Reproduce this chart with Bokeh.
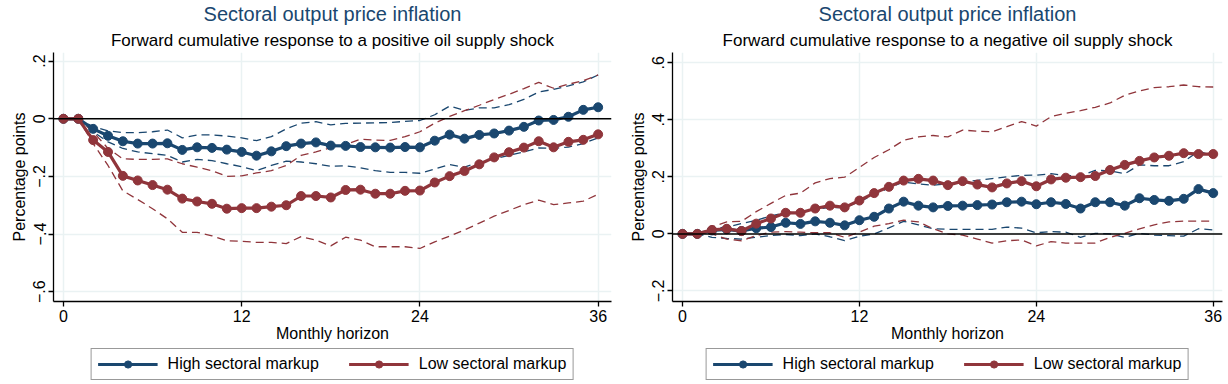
from bokeh.plotting import figure
from bokeh.layouts import row, column
from bokeh.models import (Range1d, Title, Legend, LegendItem, FixedTicker, Span,
                          CustomJSTickFormatter)
from bokeh.embed import file_html
from bokeh.resources import INLINE

months = list(range(37))
x_ticks = [0, 12, 24, 36]
main_title = "Sectoral output price inflation"
sub_pos = "Forward cumulative response to a positive oil supply shock"
sub_neg = "Forward cumulative response to a negative oil supply shock"
series_labels = ["High sectoral markup", "Low sectoral markup"]
y_ticks_pos = [0.2, 0.0, -0.2, -0.4, -0.6]
y_ticks_neg = [0.6, 0.4, 0.2, 0.0, -0.2]

# Positive oil supply shock
pos_high = [0, 0, -0.035, -0.059, -0.078, -0.086, -0.086, -0.085, -0.108, -0.099, -0.101, -0.107,
            -0.115, -0.128, -0.113, -0.095, -0.086, -0.082, -0.093, -0.094, -0.098, -0.099, -0.100,
            -0.098, -0.099, -0.076, -0.055, -0.069, -0.056, -0.051, -0.041, -0.028, -0.006, -0.004,
            0.007, 0.031, 0.040]
pos_high_up = [0, 0, -0.027, -0.042, -0.048, -0.048, -0.045, -0.039, -0.066, -0.056, -0.056, -0.060,
               -0.066, -0.076, -0.062, -0.035, -0.015, -0.010, -0.021, -0.016, -0.015, -0.014, -0.013,
               -0.009, -0.006, 0.014, 0.044, 0.029, 0.038, 0.038, 0.049, 0.067, 0.093, 0.102, 0.114,
               0.128, 0.152]
pos_high_lo = [0, 0, -0.045, -0.080, -0.103, -0.115, -0.121, -0.127, -0.150, -0.141, -0.145, -0.156,
               -0.166, -0.180, -0.162, -0.147, -0.150, -0.156, -0.165, -0.163, -0.170, -0.180, -0.186,
               -0.186, -0.189, -0.174, -0.159, -0.168, -0.150, -0.139, -0.127, -0.115, -0.101, -0.103,
               -0.098, -0.086, -0.066]
pos_low = [0, 0, -0.074, -0.115, -0.198, -0.214, -0.230, -0.246, -0.277, -0.287, -0.295, -0.312,
           -0.310, -0.310, -0.305, -0.300, -0.268, -0.268, -0.273, -0.247, -0.246, -0.260, -0.260,
           -0.250, -0.249, -0.221, -0.199, -0.181, -0.158, -0.134, -0.116, -0.100, -0.078, -0.099,
           -0.080, -0.073, -0.054]
pos_low_up = [0, 0, -0.045, -0.103, -0.139, -0.141, -0.141, -0.139, -0.156, -0.168, -0.180, -0.200,
              -0.198, -0.188, -0.180, -0.162, -0.127, -0.115, -0.100, -0.089, -0.071, -0.074, -0.075,
              -0.062, -0.045, -0.015, 0.008, 0.028, 0.047, 0.067, 0.085, 0.105, 0.126, 0.106, 0.120,
              0.132, 0.152]
pos_low_lo = [0, 0, -0.086, -0.162, -0.250, -0.280, -0.312, -0.347, -0.394, -0.394, -0.406, -0.423,
              -0.425, -0.429, -0.429, -0.433, -0.409, -0.421, -0.441, -0.411, -0.421, -0.444, -0.444,
              -0.444, -0.450, -0.427, -0.407, -0.386, -0.362, -0.338, -0.318, -0.298, -0.282, -0.298,
              -0.292, -0.286, -0.262]

# Negative oil supply shock
neg_high = [0, 0, 0.012, 0.016, 0.010, 0.020, 0.024, 0.039, 0.035, 0.044, 0.039, 0.030, 0.048,
            0.060, 0.089, 0.113, 0.099, 0.093, 0.098, 0.099, 0.101, 0.103, 0.111, 0.113, 0.104,
            0.111, 0.105, 0.089, 0.111, 0.111, 0.099, 0.125, 0.119, 0.116, 0.123, 0.157, 0.143]
neg_high_up = [0, 0, 0.020, 0.024, 0.036, 0.048, 0.063, 0.074, 0.078, 0.087, 0.092, 0.092, 0.113,
               0.137, 0.161, 0.182, 0.175, 0.171, 0.175, 0.181, 0.188, 0.194, 0.200, 0.205, 0.206,
               0.211, 0.205, 0.203, 0.223, 0.221, 0.211, 0.242, 0.239, 0.239, 0.253, 0.290, 0.274]
neg_high_lo = [0, 0, -0.012, -0.016, -0.018, -0.012, -0.006, -0.002, -0.006, 0.000, -0.010, -0.024,
               -0.008, 0.000, 0.021, 0.044, 0.032, 0.018, 0.016, 0.016, 0.016, 0.016, 0.024, 0.020,
               0.004, 0.008, 0.006, -0.012, 0.002, 0.000, -0.012, 0.002, -0.004, -0.006, -0.008,
               0.018, 0.014]
neg_low = [0, 0, 0.014, 0.018, 0.010, 0.036, 0.054, 0.074, 0.074, 0.089, 0.099, 0.093, 0.117,
           0.143, 0.165, 0.187, 0.193, 0.187, 0.171, 0.185, 0.173, 0.163, 0.177, 0.185, 0.167,
           0.191, 0.197, 0.199, 0.203, 0.224, 0.242, 0.256, 0.268, 0.274, 0.283, 0.280, 0.280]
neg_low_up = [0, 0, 0.024, 0.042, 0.044, 0.078, 0.107, 0.135, 0.143, 0.179, 0.194, 0.199, 0.233,
              0.268, 0.295, 0.328, 0.340, 0.345, 0.340, 0.364, 0.360, 0.358, 0.376, 0.394, 0.378,
              0.411, 0.423, 0.432, 0.444, 0.459, 0.486, 0.501, 0.513, 0.516, 0.522, 0.516, 0.515]
neg_low_lo = [0, 0, 0.000, -0.018, -0.024, -0.006, 0.006, 0.008, 0.006, 0.004, 0.004, -0.012,
              0.006, 0.027, 0.036, 0.048, 0.042, 0.018, 0.000, -0.004, -0.018, -0.032, -0.024,
              -0.021, -0.042, -0.027, -0.032, -0.032, -0.032, -0.012, 0.002, 0.018, 0.032, 0.042,
              0.045, 0.045, 0.045]

NAVY = "#1a476f"
MAROON = "#90353b"
GRID = "#eaf2f3"
FONT = "Liberation Sans"
W = 614
H_PLOT = 344
H_LEG = 40

tick_fmt = CustomJSTickFormatter(code="""
if (Math.abs(tick) < 1e-9) { return '0'; }
var s = Math.abs(tick).toFixed(1).replace(/^0/, '');
return (tick < 0 ? '\u2212' : '') + s;
""")


def make_panel(subtitle, xr, yr, yticks, high, high_up, high_lo, low, low_up, low_lo,
               border_left, border_right, title_offset):
    p = figure(width=W, height=H_PLOT, output_backend="svg", toolbar_location=None,
               x_range=Range1d(*xr), y_range=Range1d(*yr),
               min_border_left=border_left, min_border_right=border_right,
               min_border_top=0, min_border_bottom=0)
    p.outline_line_color = None
    p.background_fill_color = "white"
    p.border_fill_color = "white"

    p.title.text = main_title
    p.title.align = "center"
    p.title.offset = title_offset
    p.title.text_font = FONT
    p.title.text_font_size = "20px"
    p.title.text_font_style = "normal"
    p.title.text_color = NAVY
    p.title.standoff = 1
    p.add_layout(Title(text=subtitle, align="center", text_font=FONT,
                       text_font_size="17px", text_font_style="normal",
                       text_color="black", standoff=6), "above")

    for ax in (p.xaxis[0], p.yaxis[0]):
        ax.axis_line_color = "black"
        ax.axis_line_width = 1.3
        ax.major_tick_line_color = "black"
        ax.major_tick_line_width = 1.3
        ax.major_tick_in = 0
        ax.major_tick_out = 5
        ax.minor_tick_line_color = None
        ax.major_label_text_font = FONT
        ax.major_label_text_font_size = "16px"
        ax.major_label_text_color = "black"
        ax.axis_label_text_font = FONT
        ax.axis_label_text_font_size = "16px"
        ax.axis_label_text_font_style = "normal"
        ax.axis_label_text_color = "black"
        ax.major_label_standoff = 3
        ax.axis_label_standoff = 3
    p.xaxis.axis_label_standoff = 0

    p.xaxis.ticker = FixedTicker(ticks=x_ticks)
    p.xaxis.axis_label = "Monthly horizon"
    p.yaxis.ticker = FixedTicker(ticks=yticks)
    p.yaxis.formatter = tick_fmt
    p.yaxis.major_label_orientation = "vertical"
    p.yaxis.axis_label = "Percentage points"

    p.xgrid.ticker = FixedTicker(ticks=x_ticks)
    p.xgrid.grid_line_color = GRID
    p.xgrid.grid_line_width = 1.5
    p.ygrid.ticker = FixedTicker(ticks=yticks)
    p.ygrid.grid_line_color = GRID
    p.ygrid.grid_line_width = 1.5

    p.add_layout(Span(location=0, dimension="width", line_color="black", line_width=1.5))

    for ys, col in ((high_up, NAVY), (high_lo, NAVY), (low_up, MAROON), (low_lo, MAROON)):
        p.line(months, ys, line_color=col, line_width=1.3, line_dash="8 5")

    for ys, col in ((high, NAVY), (low, MAROON)):
        p.line(months, ys, line_color=col, line_width=3.2)
        p.scatter(months, ys, marker="circle", size=9, fill_color=col, line_color=col)

    # legend in its own strip below the plot (glyph renderers kept off-screen)
    lg = figure(width=W, height=H_LEG, output_backend="svg", toolbar_location=None,
                x_range=Range1d(0, 1), y_range=Range1d(0, 1),
                min_border_left=border_left, min_border_right=border_right,
                min_border_top=0, min_border_bottom=0)
    lg.axis.visible = False
    lg.grid.visible = False
    lg.outline_line_color = None
    lg.border_fill_color = "white"
    items = []
    for col, lab in ((NAVY, series_labels[0]), (MAROON, series_labels[1])):
        lr = lg.line([-10, -9], [-10, -10], line_color=col, line_width=3.2)
        sr = lg.scatter([-10], [-10], marker="circle", size=8, fill_color=col, line_color=col)
        items.append(LegendItem(label=lab, renderers=[lr, sr]))
    legend = Legend(items=items, orientation="horizontal", location="center",
                    glyph_width=60, glyph_height=18, label_text_font=FONT,
                    label_text_font_size="16px", label_text_color="black",
                    label_standoff=10, spacing=30,
                    padding=6, margin=0, border_line_color="#333333", border_line_width=1.3,
                    background_fill_color="white")
    lg.add_layout(legend, "center")
    return column(p, lg)


c1 = make_panel(sub_pos, (-0.67, 36.9), (-0.634, 0.23), y_ticks_pos,
                pos_high, pos_high_up, pos_high_lo, pos_low, pos_low_up, pos_low_lo, 53, 3, -17)
c2 = make_panel(sub_neg, (-0.68, 36.63), (-0.237, 0.636), y_ticks_neg,
                neg_high, neg_high_up, neg_high_lo, neg_low, neg_low_up, neg_low_lo, 58, 6, 0)

layout = row(c1, c2)
open("out.html", "w").write(file_html(layout, INLINE))
